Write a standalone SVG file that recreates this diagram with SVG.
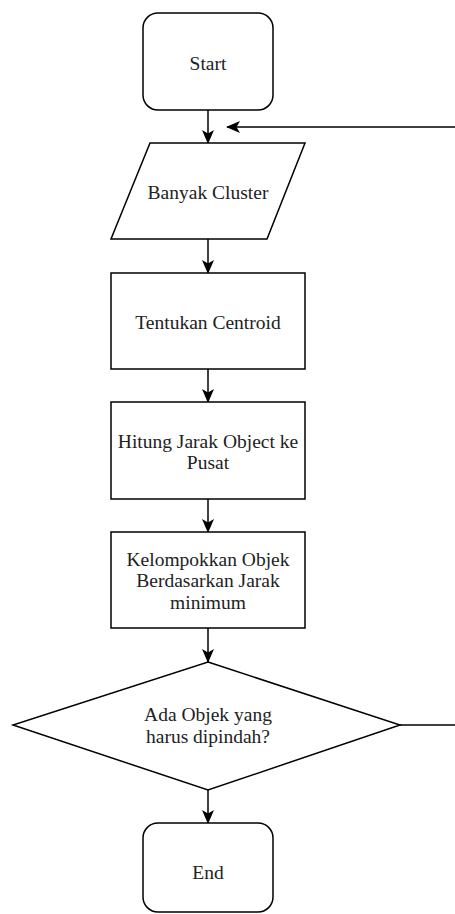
<svg xmlns="http://www.w3.org/2000/svg" width="455" height="914" viewBox="0 0 455 914">
<style>
.s{fill:#fff;stroke:#000;stroke-width:1.5}
.c{fill:none;stroke:#000;stroke-width:1.5}
text{font-family:"Liberation Serif","Times New Roman",serif;font-size:19.5px;fill:#222;text-anchor:middle;dominant-baseline:central}
</style>
<defs>
<marker id="ah" markerUnits="userSpaceOnUse" markerWidth="14" markerHeight="12" viewBox="0 0 14 12" refX="13" refY="6" orient="auto">
<path d="M0,0 L14,6 L0,12 L3.5,6 z" fill="#000"/>
</marker>
</defs>
<rect width="455" height="914" fill="#fff"/>
<g id="connectors">
<line class="c" x1="208" y1="110" x2="208" y2="143" marker-end="url(#ah)"/>
<line class="c" x1="208" y1="239" x2="208" y2="273" marker-end="url(#ah)"/>
<line class="c" x1="208" y1="369" x2="208" y2="402" marker-end="url(#ah)"/>
<line class="c" x1="208" y1="499" x2="208" y2="532" marker-end="url(#ah)"/>
<line class="c" x1="208" y1="628" x2="208" y2="662" marker-end="url(#ah)"/>
<line class="c" x1="208" y1="790" x2="208" y2="823" marker-end="url(#ah)"/>
<line class="c" x1="455" y1="127" x2="227" y2="127" marker-end="url(#ah)"/>
<line class="c" x1="400" y1="725" x2="455" y2="725"/>
</g>
<g id="start">
<rect class="s" x="143" y="13" width="130" height="97" rx="15"/>
<text x="208" y="63">Start</text>
</g>
<g id="banyak-cluster">
<polygon class="s" points="150,143 305,143 267,239 111,239"/>
<text x="208" y="192">Banyak Cluster</text>
</g>
<g id="tentukan-centroid">
<rect class="s" x="111" y="273" width="194" height="96"/>
<text x="208" y="322">Tentukan Centroid</text>
</g>
<g id="hitung-jarak">
<rect class="s" x="111" y="402" width="194" height="97"/>
<text x="208" y="441">Hitung Jarak Object ke</text>
<text x="208" y="462">Pusat</text>
</g>
<g id="kelompokkan">
<rect class="s" x="111" y="532" width="194" height="96"/>
<text x="208" y="559">Kelompokkan Objek</text>
<text x="208" y="580">Berdasarkan Jarak</text>
<text x="208" y="602">minimum</text>
</g>
<g id="decision">
<polygon class="s" points="208,662 400,725 208,790 13,725"/>
<text x="208" y="714">Ada Objek yang</text>
<text x="208" y="736">harus dipindah?</text>
</g>
<g id="end">
<rect class="s" x="143" y="823" width="130" height="89" rx="15"/>
<text x="208" y="872">End</text>
</g>
</svg>
